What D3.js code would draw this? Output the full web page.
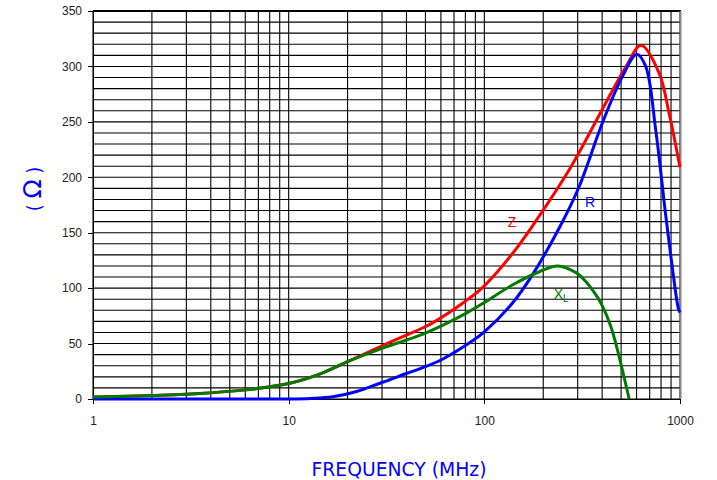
<!DOCTYPE html>
<html>
<head>
<meta charset="utf-8">
<script src="https://cdn.jsdelivr.net/npm/d3@7"></script>
<style>
  body { margin: 0; background: #fff; }
  svg { display: block; }
  .tick-label { font-family: "Liberation Sans", Arial, sans-serif; font-size: 12px; fill: #222; }
  .axis-title { font-family: "Liberation Sans Narrow", "DejaVu Sans Condensed", "Liberation Sans", sans-serif; fill: #0000ff; }
  .curve-label { font-family: "Liberation Sans", Arial, sans-serif; font-size: 14px; }
</style>
</head>
<body>
<div id="chart"></div>
<script>
const WIDTH = 717;
const HEIGHT = 480;

// frequency (MHz), value (ohm)
const zPoints = [
  [1, 1.8], [2, 3.2], [3.5, 5], [5.85, 8], [10, 14], [14.4, 22.5], [20, 33.7],
  [30, 48], [40, 57.7], [50, 65.2], [60, 73.2], [70, 81], [80, 88.2], [90, 95],
  [100, 102], [139, 131], [176, 156], [272, 207], [400, 261], [530, 300],
  [632, 319], [782, 294], [879, 258], [1000, 209]
];
const rPoints = [
  [1, 0], [5, 0], [10, 0], [13, 0.5], [16.8, 2], [22, 6.6], [29, 14], [32, 16.6],
  [40, 23], [50, 29.2], [60, 35.2], [70, 41.8], [80, 48.2], [90, 54.4], [100, 60.5],
  [139, 86.3], [176, 112], [241, 154], [305, 191.5], [401, 249], [508, 291],
  [601, 311], [668, 300], [751, 243], [845, 166], [910, 121], [980, 82], [1000, 78]
];
const xlPoints = [
  [1, 1.8], [2, 3.2], [3.5, 5], [5.85, 8], [10, 14], [14.4, 22.5], [20, 33.7],
  [30, 45.7], [40, 53.2], [50, 59.5], [60, 65.8], [70, 71.6], [80, 77], [90, 82.2],
  [100, 87], [139, 102.8], [191, 114.8], [237, 120], [294, 114], [330, 106],
  [372, 94], [401, 84], [443, 65.5], [470, 50], [508, 26], [550, 0]
];

const xTicks = [1, 10, 100, 1000];
const yTicks = [0, 50, 100, 150, 200, 250, 300, 350];

// label anchor points (freq, value)
const curveLabels = [
  { text: 'Z', sub: '', at: [138.5, 155.4], color: '#ff0000' },
  { text: 'R', sub: '', at: [347.5, 173.5], color: '#0000ff' },
  { text: 'X', sub: 'L', at: [247, 90], color: '#007a00' }
];

const margin = { left: 93, right: 37, top: 11, bottom: 81 };

const x = d3.scaleLog()
  .domain([1, 1000])
  .range([margin.left, WIDTH - margin.right]);

const y = d3.scaleLinear()
  .domain([0, 350])
  .range([HEIGHT - margin.bottom, margin.top]);

const svg = d3.select('#chart').append('svg')
  .attr('width', WIDTH)
  .attr('height', HEIGHT);

// clipped title, only the bottom of it is on the page
svg.append('text')
  .attr('class', 'axis-title')
  .attr('x', 411)
  .attr('y', -2)
  .attr('text-anchor', 'middle')
  .attr('font-size', 18)
  .attr('textLength', 110)
  .attr('lengthAdjust', 'spacing')
  .text('(TYPICAL)');

// grid
const vLines = [];
for (let d = 1; d < 1000; d *= 10) {
  for (let k = 1; k < 10; k++) vLines.push(d * k);
}
vLines.push(1000);

const grid = svg.append('g')
  .attr('stroke', '#000')
  .attr('stroke-width', 1.1);

grid.selectAll('line.v')
  .data(vLines)
  .enter().append('line')
  .attr('class', 'v')
  .attr('x1', d => x(d)).attr('x2', d => x(d))
  .attr('y1', y(0)).attr('y2', y(350));

grid.selectAll('line.h')
  .data(d3.range(0, 351, 10))
  .enter().append('line')
  .attr('class', 'h')
  .attr('x1', x(1)).attr('x2', x(1000))
  .attr('y1', d => y(d)).attr('y2', d => y(d));

// frame
svg.append('line')
  .attr('x1', x(1)).attr('x2', x(1000) + 1)
  .attr('y1', y(350)).attr('y2', y(350))
  .attr('stroke', '#000').attr('stroke-width', 2);
svg.append('line')
  .attr('x1', x(1000) + 0.5).attr('x2', x(1000) + 0.5)
  .attr('y1', y(350)).attr('y2', y(0))
  .attr('stroke', '#888').attr('stroke-width', 2);

// axes
const xAxis = d3.axisBottom(x)
  .tickValues(xTicks)
  .tickFormat(d3.format('d'))
  .tickSize(5)
  .tickPadding(12);

const yAxis = d3.axisLeft(y)
  .tickValues(yTicks)
  .tickSize(5)
  .tickPadding(6);

const gx = svg.append('g')
  .attr('transform', `translate(0,${y(0)})`)
  .call(xAxis);

const gy = svg.append('g')
  .attr('transform', `translate(${x(1)},0)`)
  .call(yAxis);

[gx, gy].forEach((g) => {
  g.select('.domain').attr('stroke', '#000').attr('shape-rendering', 'crispEdges');
  g.selectAll('.tick line').attr('stroke', '#000').attr('shape-rendering', 'crispEdges');
  g.selectAll('.tick text')
    .attr('class', 'tick-label')
    .attr('font-family', null)
    .attr('font-size', null)
    .attr('fill', null);
});

// curves
const line = d3.line()
  .x(d => x(d[0]))
  .y(d => y(d[1]))
  .curve(d3.curveCatmullRom.alpha(0.5));

const series = [
  { points: zPoints, color: '#ff0000' },
  { points: rPoints, color: '#0000ff' },
  { points: xlPoints, color: '#007a00' }
];

svg.selectAll('path.curve')
  .data(series)
  .enter().append('path')
  .attr('class', 'curve')
  .attr('d', d => line(d.points))
  .attr('fill', 'none')
  .attr('stroke', d => d.color)
  .attr('stroke-width', 3)
  .attr('stroke-linejoin', 'round');

// curve labels
const lbl = svg.selectAll('text.curve-label')
  .data(curveLabels)
  .enter().append('text')
  .attr('class', 'curve-label')
  .attr('x', d => x(d.at[0]))
  .attr('y', d => y(d.at[1]))
  .attr('text-anchor', 'middle')
  .attr('fill', d => d.color)
  .text(d => d.text);

lbl.filter(d => d.sub)
  .append('tspan')
  .attr('font-size', 10)
  .attr('dy', 3)
  .text(d => d.sub);

// axis titles
svg.append('text')
  .attr('class', 'axis-title')
  .attr('x', 399)
  .attr('y', 476)
  .attr('text-anchor', 'middle')
  .attr('font-size', 20)
  .attr('textLength', 175)
  .attr('lengthAdjust', 'spacingAndGlyphs')
  .text('FREQUENCY (MHz)');

const yTitle = svg.append('text')
  .attr('class', 'axis-title')
  .attr('transform', 'translate(41,189) rotate(-90)')
  .attr('text-anchor', 'middle')
  .attr('font-size', 20);
yTitle.append('tspan').text('( ');
yTitle.append('tspan').attr('font-size', 25).attr('font-family', 'DejaVu Sans').text('Ω');
yTitle.append('tspan').text(' )');
</script>
</body>
</html>
